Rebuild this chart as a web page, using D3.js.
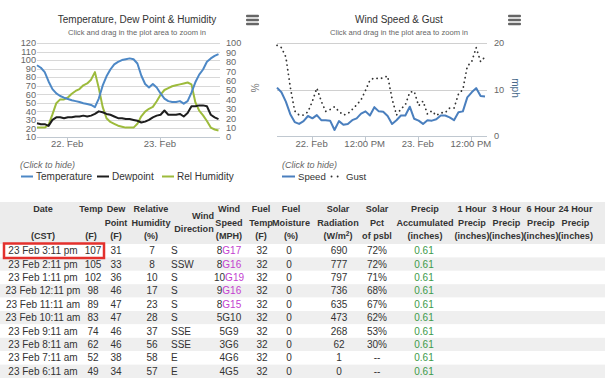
<!DOCTYPE html>
<html><head><meta charset="utf-8">
<script src="https://cdn.jsdelivr.net/npm/d3@7"></script>
<style>
body{margin:0;background:#fff;}
svg{display:block;font-family:"Liberation Sans",Arial,Helvetica,sans-serif;}
</style></head><body>
<svg id="c" width="605" height="381"></svg>
<script>
// ---------- DATA ----------
const times = [
"2017-02-21 16:11","2017-02-21 17:11","2017-02-21 18:11","2017-02-21 19:11","2017-02-21 20:11","2017-02-21 21:11","2017-02-21 22:11","2017-02-21 23:11",
"2017-02-22 00:11","2017-02-22 01:11","2017-02-22 02:11","2017-02-22 03:11","2017-02-22 04:11","2017-02-22 05:11","2017-02-22 06:11","2017-02-22 07:11",
"2017-02-22 08:11","2017-02-22 09:11","2017-02-22 10:11","2017-02-22 11:11","2017-02-22 12:11","2017-02-22 13:11","2017-02-22 14:11","2017-02-22 15:11",
"2017-02-22 16:11","2017-02-22 17:11","2017-02-22 18:11","2017-02-22 19:11","2017-02-22 20:11","2017-02-22 21:11","2017-02-22 22:11","2017-02-22 23:11",
"2017-02-23 00:11","2017-02-23 01:11","2017-02-23 02:11","2017-02-23 03:11","2017-02-23 04:11","2017-02-23 05:11","2017-02-23 06:11","2017-02-23 07:11",
"2017-02-23 08:11","2017-02-23 09:11","2017-02-23 10:11","2017-02-23 11:11","2017-02-23 12:11","2017-02-23 13:11","2017-02-23 14:11","2017-02-23 15:11"];
const temperature = [94,91,86,75,66,61,58,56, 54.5,53,52,51,49.5,48.5,47.5,45, 55,70,81,89,95,98,100,101, 102,101,96,82,72,68,72,68, 61,55,52,51,51,52,49,52, 62,74,83,89,98,102,105,107];
const dewpoint = [26,25,25,23,30,33,33,32, 33,33,34,34,35,34,35,37, 40,39,37,36,34,32,32,31, 31,30,29,27,28,30,33,35, 36,41,36,36,36,37,34,38, 46,46,47,47,46,36,33,31];
const humidity = [10,10,10,13,24,36,40,40, 42,46,49,51,55,57,61,69, 52,32,20,16,14,12,11,10, 10,10,14,22,27,30,32,38, 45,50,52,54,55,56,57,58, 56,37,28,23,17,10,8,7];
const windSpeed = [10.4,9.4,7.4,4.7,3.0,2.6,3.2,4.3, 3.8,4.5,3.4,3.4,3.3,1.3,3.2,2.4, 2.6,3.4,3.8,4.8,5.3,4.4,6.2,5.3, 5.2,4.3,2.6,3.4,4.4,4.4,6.3,3.7, 3.3,2.6,3.4,3.3,3.6,4.4,4.4,4.0, 3.4,5.1,5.3,8.3,9.4,10.3,8.6,8.5];
const windGust = [19.5,19,17,10.5,5.4,4.5,4.5,5.2, 7.5,10.3,7.5,5.3,5.7,6.3,5.3,4.5, 4.8,5.7,6.7,7.8,9.8,12,12.5,12.3, 12.5,12.9,8,4.5,5.8,6.7,9.4,9.6, 6.5,7.5,4.7,5.4,4.4,5.0,5,6, 6,9,10,15,16,19,16,17];
const tempAxisTicks = [10,20,30,40,50,60,70,80,90,100,110,120];
const humAxisTicks = [0,10,20,30,40,50,60,70,80,90,100];
const windAxisTicks = [0,10,20];
const leftDateTicks = ["2017-02-22 00:00","2017-02-23 00:00"];
const rightDateTicks = ["2017-02-22 00:00","2017-02-22 12:00","2017-02-23 00:00","2017-02-23 12:00"];

const tableDates = ["23 Feb 3:11 pm","23 Feb 2:11 pm","23 Feb 1:11 pm","23 Feb 12:11 pm","23 Feb 11:11 am","23 Feb 10:11 am","23 Feb 9:11 am","23 Feb 8:11 am","23 Feb 7:11 am","23 Feb 6:11 am"];
const tableTemp = [107,105,102,98,89,83,74,62,52,49];
const tableDew = [31,33,36,46,47,47,46,46,38,34];
const tableRH = [7,8,10,17,23,28,37,56,58,57];
const tableDir = ["S","SSW","S","S","S","S","SSE","SSE","E","E"];
const tableWind = [8,8,10,9,8,5,5,3,4,4];
const tableGust = [17,16,19,16,15,10,9,6,6,5];
const tableFuelTemp = [32,32,32,32,32,32,32,32,32,32];
const tableFuelMoist = [0,0,0,0,0,0,0,0,0,0];
const tableSolarRad = [690,777,797,736,635,473,268,62,1,0];
const tableSolarPct = ["72%","72%","71%","68%","67%","62%","53%","30%","--","--"];
const tablePrecip = ["0.61","0.61","0.61","0.61","0.61","0.61","0.61","0.61","0.61","0.61"];
const tableHeaders = [
  ["Date","","(CST)"],["Temp","","(F)"],["Dew","Point","(F)"],["Relative","Humidity","(%)"],
  ["","Wind|Direction",""],["Wind","Speed","(MPH)"],["Fuel","Temp","(F)"],["Fuel","Moisture","(%)"],
  ["Solar","Radiation","(W/m²)"],["Solar","Pct","of psbl"],["Precip","Accumulated","(inches)"],
  ["1 Hour","Precip","(inches)"],["3 Hour","Precip","(inches)"],["6 Hour","Precip","(inches)"],["24 Hour","Precip","(inches)"]];

// ---------- LAYOUT ----------
const parse = d3.timeParse("%Y-%m-%d %H:%M");
const T = times.map(parse);
const svg = d3.select("#c");
const C = {temp:"#4d88c6", dew:"#1e1e1e", hum:"#9dbb3c", speed:"#4a7fbe", gust:"#333"};

function title(cx, t, s){
  svg.append("text").attr("x",cx).attr("y",22.5).attr("text-anchor","middle")
    .attr("font-size",10).attr("fill","#333").text(t);
  svg.append("text").attr("x",cx).attr("y",34.5).attr("text-anchor","middle")
    .attr("font-size",7.6).attr("fill","#666").text(s);
}
function burger(x){
  for(const dy of [16,20,24]) svg.append("rect").attr("x",x).attr("y",dy-1.2).attr("width",13).attr("height",2.4).attr("rx",1).attr("fill","#666");
}

// ===== LEFT CHART =====
const xL = d3.scaleTime().domain(d3.extent(T)).range([37,218.5]);
const yT = d3.scaleLinear().domain([10,120]).range([137,43]);
const yH = d3.scaleLinear().domain([0,100]).range([137,43]);
title(137,"Temperature, Dew Point & Humidity","Click and drag in the plot area to zoom in");
burger(246);

const gL = svg.append("g");
gL.selectAll("line.grid").data(tempAxisTicks).join("line")
  .attr("x1",37).attr("x2",220).attr("y1",d=>Math.round(yT(d))+0.5).attr("y2",d=>Math.round(yT(d))+0.5)
  .attr("stroke",d=>d===10?"#c0c8d0":"#d8d8d8").attr("stroke-width",1);
gL.selectAll("text.yl").data(tempAxisTicks).join("text")
  .attr("x",36).attr("y",d=>yT(d)+3.3).attr("text-anchor","end").attr("font-size",9.2).attr("fill","#666").text(d=>d);
gL.selectAll("text.yr").data(humAxisTicks).join("text")
  .attr("x",226).attr("y",d=>yH(d)+3.3).attr("text-anchor","start").attr("font-size",9.2).attr("fill","#666").text(d=>d);
const ltk = leftDateTicks.map(parse);
gL.selectAll("line.tk").data(ltk).join("line").attr("x1",d=>Math.round(xL(d))+0.5).attr("x2",d=>Math.round(xL(d))+0.5)
  .attr("y1",137).attr("y2",142).attr("stroke","#c0c8d0");
gL.selectAll("text.xt").data(ltk).join("text").attr("x",d=>xL(d)).attr("y",147).attr("text-anchor","middle")
  .attr("font-size",9.5).attr("fill","#666").text(d3.timeFormat("%-d. %b"));
svg.append("text").attr("transform","translate(251,88) rotate(90)").attr("text-anchor","middle")
  .attr("font-size",10).attr("fill","#777").text("%");

const lineT = d3.line().x((d,i)=>xL(T[i])).y(d=>yT(d));
const lineH = d3.line().x((d,i)=>xL(T[i])).y(d=>yH(d));
gL.append("path").attr("d",lineH(humidity)).attr("fill","none").attr("stroke",C.hum).attr("stroke-width",2).attr("stroke-linejoin","round");
gL.append("path").attr("d",lineT(dewpoint)).attr("fill","none").attr("stroke",C.dew).attr("stroke-width",2).attr("stroke-linejoin","round");
gL.append("path").attr("d",lineT(temperature)).attr("fill","none").attr("stroke",C.temp).attr("stroke-width",2).attr("stroke-linejoin","round");

// legend left
svg.append("text").attr("x",20).attr("y",168).attr("font-size",9).attr("font-style","italic").attr("fill","#666").text("(Click to hide)");
const legL = [{n:"Temperature",c:C.temp,x:21},{n:"Dewpoint",c:C.dew,x:97},{n:"Rel Humidity",c:C.hum,x:162}];
legL.forEach(l=>{
  svg.append("line").attr("x1",l.x).attr("x2",l.x+12).attr("y1",176.5).attr("y2",176.5).attr("stroke",l.c).attr("stroke-width",2);
  svg.append("text").attr("x",l.x+15).attr("y",180).attr("font-size",10).attr("fill","#333").text(l.n);
});

// ===== RIGHT CHART =====
const xR = d3.scaleTime().domain(d3.extent(T)).range([277,485]);
const yW = d3.scaleLinear().domain([0,20]).range([136,43]);
title(399,"Wind Speed & Gust","Click and drag in the plot area to zoom in");
burger(508);
const gR = svg.append("g");
gR.selectAll("line.grid").data(windAxisTicks).join("line")
  .attr("x1",277).attr("x2",487).attr("y1",d=>Math.round(yW(d))+0.5).attr("y2",d=>Math.round(yW(d))+0.5)
  .attr("stroke",d=>d===0?"#c0c8d0":"#d0d0d0");
gR.selectAll("text.yr").data(windAxisTicks).join("text")
  .attr("x",494).attr("y",d=>yW(d)+3.3).attr("font-size",9.2).attr("fill","#666").text(d=>d);
const rtk = rightDateTicks.map(parse);
gR.selectAll("line.tk").data(rtk).join("line").attr("x1",d=>Math.round(xR(d))+0.5).attr("x2",d=>Math.round(xR(d))+0.5)
  .attr("y1",136).attr("y2",141).attr("stroke","#c0c8d0");
gR.selectAll("text.xt").data(rtk).join("text").attr("x",d=>xR(d)).attr("y",146.5).attr("text-anchor","middle")
  .attr("font-size",9.5).attr("fill","#666").text(d=>d.getHours()===0?d3.timeFormat("%-d. %b")(d):d3.timeFormat("%I:%M %p")(d));
svg.append("text").attr("transform","translate(512,88) rotate(90)").attr("text-anchor","middle")
  .attr("font-size",10).attr("fill","#4a6a8c").text("mph");
const lineW = d3.line().x((d,i)=>xR(T[i])).y(d=>yW(d));
gR.append("path").attr("d",lineW(windGust)).attr("fill","none").attr("stroke",C.gust).attr("stroke-width",1.8)
  .attr("stroke-dasharray","0.1,4.6").attr("stroke-linecap","round");
gR.append("path").attr("d",lineW(windSpeed)).attr("fill","none").attr("stroke",C.speed).attr("stroke-width",2).attr("stroke-linejoin","round");
svg.append("text").attr("x",282).attr("y",168).attr("font-size",9).attr("font-style","italic").attr("fill","#666").text("(Click to hide)");
svg.append("line").attr("x1",282).attr("x2",295).attr("y1",176.5).attr("y2",176.5).attr("stroke",C.speed).attr("stroke-width",2);
svg.append("text").attr("x",298).attr("y",180).attr("font-size",9.6).attr("fill","#333").text("Speed");
svg.append("line").attr("x1",331.5).attr("x2",339).attr("y1",176.5).attr("y2",176.5).attr("stroke",C.gust).attr("stroke-width",1.8)
  .attr("stroke-dasharray","0.1,6").attr("stroke-linecap","round");
svg.append("text").attr("x",346).attr("y",180).attr("font-size",9.6).attr("fill","#333").text("Gust");

// ===== TABLE =====
const hx = [43,91,116,151,194,229,261,291,338,377,425,472,506.5,541,575.5];
const vx = [43,93,116,152,171,229,262,289,339,377,424];
const rowTop = 244, rowH = 13.4;
const HF = 9.1;
svg.append("rect").attr("x",0).attr("y",202).attr("width",605).attr("height",42).attr("fill","#ececec");
const rows = d3.range(tableDates.length);
svg.selectAll("rect.row").data(rows).join("rect").attr("x",0).attr("y",i=>rowTop+i*rowH).attr("width",605).attr("height",rowH)
  .attr("fill",i=>i%2?"#efefef":"#fff");
const hy = [212,225.5,239];
tableHeaders.forEach((lines,ci)=>{
  lines.forEach((s,li)=>{
    if(!s) return;
    if(s.includes("|")){
      const [a,b]=s.split("|");
      svg.append("text").attr("x",hx[ci]+9).attr("y",218.5).attr("text-anchor","middle").attr("font-size",HF).attr("font-weight","bold").attr("fill","#333").text(a);
      svg.append("text").attr("x",hx[ci]).attr("y",232).attr("text-anchor","middle").attr("font-size",HF).attr("font-weight","bold").attr("fill","#333").text(b);
      return;
    }
    const t = svg.append("text").attr("x",hx[ci]).attr("y",hy[li]).attr("text-anchor","middle").attr("font-size",HF).attr("font-weight","bold").attr("fill","#333");
    if(s==="(W/m²)"){ t.text("(W/m"); t.append("tspan").attr("font-size",6.5).attr("dy",-3.5).text("2"); t.append("tspan").attr("dy",3.5).text(")"); }
    else t.text(s);
  });
});
const cols = [tableDates,tableTemp,tableDew,tableRH,tableDir,null,tableFuelTemp,tableFuelMoist,tableSolarRad,tableSolarPct,tablePrecip];
rows.forEach(i=>{
  const y = rowTop+i*rowH+rowH/2+3.5;
  cols.forEach((arr,ci)=>{
    const t = svg.append("text").attr("x",vx[ci]).attr("y",y).attr("font-size",10).attr("fill","#333")
      .attr("text-anchor",ci===4?"start":"middle");
    if(ci===5){
      t.append("tspan").text(tableWind[i]);
      t.append("tspan").attr("fill",tableGust[i]>=15?"#c43dd0":"#333").text("G"+tableGust[i]);
    } else if(ci===10){ t.attr("fill","#3d9a4a").text(arr[i]); }
    else t.text(arr[i]);
  });
});
// highlight box
svg.append("rect").attr("x",4).attr("y",rowTop-0.5).attr("width",100).attr("height",14.5)
  .attr("fill","none").attr("stroke","#e3312d").attr("stroke-width",2.5);
</script>
</body></html>
